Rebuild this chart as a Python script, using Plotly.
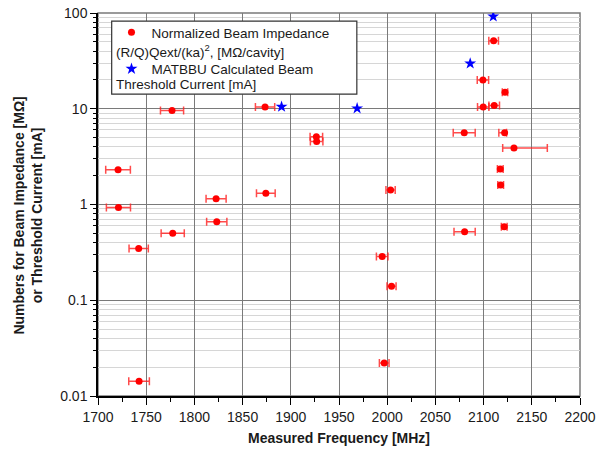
import plotly.graph_objects as go

# ---- data ----
imp_freq = [1720.8, 1721.2, 1742.2, 1742.6, 1776.8, 1777.5, 1822.5, 1823.2,
            1873.3, 1874.1, 1926.5, 1926.8, 1994.8, 1996.9, 2003.5, 2004.5,
            2079.9, 2080.3, 2099.3, 2099.6, 2110.4, 2111.0, 2117.3, 2117.7,
            2121.4, 2121.8, 2122.2, 2131.5]
imp_value = [2.31, 0.93, 0.348, 0.0143, 9.6, 0.50, 1.15, 0.66,
             10.4, 1.31, 5.1, 4.55, 0.287, 0.0221, 1.42, 0.140,
             5.60, 0.52, 20.0, 10.4, 51.3, 10.8, 2.35, 1.60,
             0.586, 5.60, 14.9, 3.90]
imp_err_plus = [12.8, 12.5, 10.0, 10.7, 12.0, 12.0, 10.4, 10.5,
                10.0, 9.7, 6.5, 6.5, 6.0, 5.0, 4.8, 4.7,
                11.4, 11.0, 5.9, 5.9, 5.0, 5.5, 3.0, 3.0,
                3.0, 2.0, 2.8, 34.6]
imp_err_minus = [12.8, 12.5, 10.0, 10.7, 12.0, 12.0, 10.4, 10.5,
                 10.0, 9.7, 6.5, 6.5, 6.0, 5.0, 4.8, 4.7,
                 11.4, 11.0, 5.9, 5.9, 5.0, 5.5, 3.0, 3.0,
                 3.0, 6.0, 2.8, 11.7]

thr_freq = [1890.4, 1968.8, 2086.1, 2110.0]
thr_value = [10.5, 10.1, 29.7, 92.0]

x_ticks = [1700, 1750, 1800, 1850, 1900, 1950, 2000, 2050, 2100, 2150, 2200]
y_tickvals = [0.01, 0.1, 1, 10, 100]
y_ticktext = ["0.01", "0.1", "1", "10", "100"]

imp_name = ["Normalized Beam Impedance", "(R/Q)Qext/(ka)<sup>2</sup>, [MΩ/cavity]"]
thr_name = ["MATBBU Calculated Beam", "Threshold Current [mA]"]

FONT = "Liberation Sans, Arial, sans-serif"
TXT = "#1a1a1a"

fig = go.Figure()

fig.add_trace(go.Scatter(
    x=imp_freq, y=imp_value, mode="markers",
    name=imp_name[0], legendgroup="imp",
    marker=dict(symbol="circle", size=7, color="#ff0000"),
    error_x=dict(type="data", symmetric=False, array=imp_err_plus,
                 arrayminus=imp_err_minus, color="rgba(255,30,30,0.8)",
                 thickness=1.5, width=4),
))
fig.add_trace(go.Scatter(
    x=thr_freq, y=thr_value, mode="markers",
    name=thr_name[0], legendgroup="thr",
    marker=dict(symbol="star", size=9, color="#0000ff", line=dict(width=0)),
))

fig.update_layout(
    width=603, height=453,
    margin=dict(l=98, r=23, t=13, b=57, autoexpand=False),
    paper_bgcolor="white", plot_bgcolor="white",
    font=dict(family=FONT, size=14, color=TXT),
    showlegend=True,
    legend=dict(
        x=0.028, y=0.9896, xanchor="left", yanchor="top",
        bgcolor="rgba(0,0,0,0)", borderwidth=0,
        font=dict(family=FONT, size=13.5, color=TXT),
        tracegroupgap=16, traceorder="grouped",
    ),
    xaxis=dict(
        range=[1700, 2200], tickvals=x_ticks, automargin=False,
        ticks="outside", ticklen=7, tickwidth=1.2, tickcolor="black",
        showline=True, linecolor="black", linewidth=1.5,
        showgrid=True, gridcolor="#7a7a7a", gridwidth=1.4,
        zeroline=False,
        minor=dict(dtick=25, ticks="outside", ticklen=4, tickcolor="black", showgrid=False),
        title=dict(text="<b>Measured Frequency [MHz]</b>", standoff=10,
                   font=dict(family=FONT, size=14)),
        tickfont=dict(family=FONT, size=14),
    ),
    yaxis=dict(
        type="log", range=[-2, 2], automargin=False,
        tickvals=y_tickvals, ticktext=y_ticktext,
        ticks="outside", ticklen=6, tickwidth=1.2, tickcolor="black",
        showline=True, linecolor="black", linewidth=1.5,
        showgrid=True, gridcolor="#7a7a7a", gridwidth=1.4,
        zeroline=False,
        minor=dict(dtick="D1", ticks="outside", ticklen=3, tickcolor="black",
                   showgrid=True, gridcolor="#d6d6d6", gridwidth=1),
        tickfont=dict(family=FONT, size=14),
    ),
    shapes=[
        dict(type="rect", xref="paper", yref="paper", x0=0, y0=0, x1=1, y1=1,
             line=dict(color="#7a7a7a", width=1.5), fillcolor="rgba(0,0,0,0)",
             layer="below"),
        # legend frame
        dict(type="rect", xref="paper", yref="paper", x0=0.0284, y0=0.788, x1=0.537, y1=0.979,
             line=dict(color="#333333", width=1.2), fillcolor="white", layer="above"),
    ],
    annotations=[
        dict(text="<b>Numbers for Beam Impedance [MΩ]<br>or Threshold Current [mA]</b>",
             xref="paper", yref="paper", x=-0.146, y=0.47,
             xanchor="center", yanchor="middle", textangle=-90, showarrow=False,
             font=dict(family=FONT, size=14, color=TXT)),
        dict(text=imp_name[1],
             xref="paper", yref="paper", x=0.034, y=0.8995,
             xanchor="left", yanchor="middle", showarrow=False,
             font=dict(family=FONT, size=13.5, color=TXT)),
        dict(text=thr_name[1],
             xref="paper", yref="paper", x=0.034, y=0.8146,
             xanchor="left", yanchor="middle", showarrow=False,
             font=dict(family=FONT, size=13.5, color=TXT)),
    ],
)

fig.write_html("out.html")
